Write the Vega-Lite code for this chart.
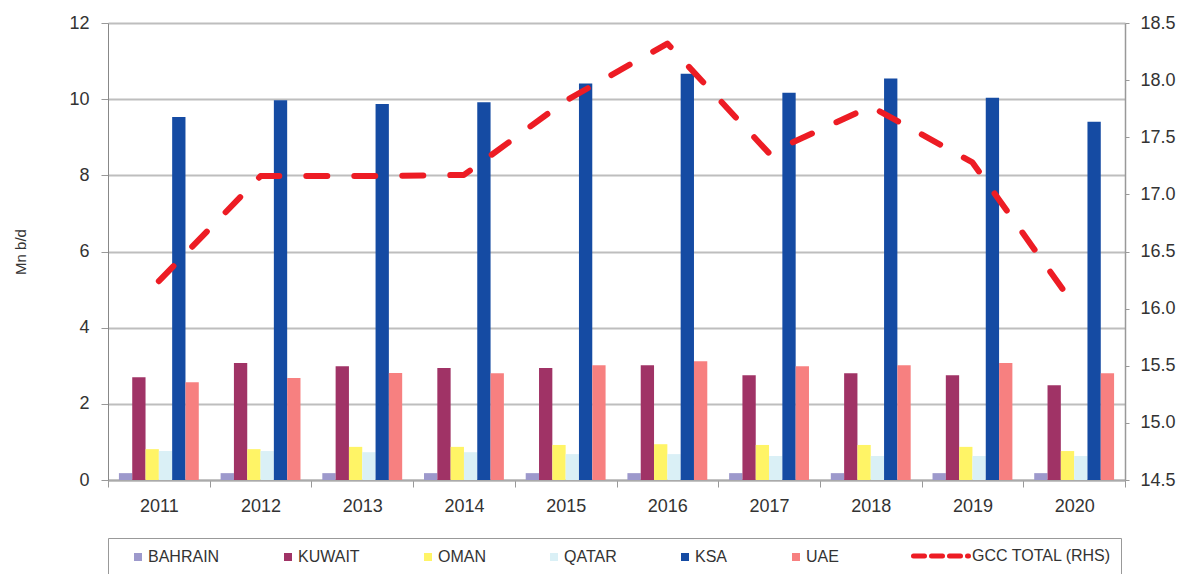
{
  "$schema": "https://vega.github.io/schema/vega-lite/v6.json",
  "width": 1017,
  "height": 457,
  "autosize": {"type": "none"},
  "padding": {"left": 108, "top": 23, "right": 54, "bottom": 94},
  "background": "white",
  "datasets": {
    "bars": [
      {"year": "2011", "country": "BAHRAIN", "value": 0.18},
      {"year": "2011", "country": "KUWAIT", "value": 2.70},
      {"year": "2011", "country": "OMAN", "value": 0.81},
      {"year": "2011", "country": "QATAR", "value": 0.76},
      {"year": "2011", "country": "KSA", "value": 9.53},
      {"year": "2011", "country": "UAE", "value": 2.57},
      {"year": "2012", "country": "BAHRAIN", "value": 0.18},
      {"year": "2012", "country": "KUWAIT", "value": 3.07},
      {"year": "2012", "country": "OMAN", "value": 0.81},
      {"year": "2012", "country": "QATAR", "value": 0.76},
      {"year": "2012", "country": "KSA", "value": 9.97},
      {"year": "2012", "country": "UAE", "value": 2.68},
      {"year": "2013", "country": "BAHRAIN", "value": 0.18},
      {"year": "2013", "country": "KUWAIT", "value": 2.99},
      {"year": "2013", "country": "OMAN", "value": 0.87},
      {"year": "2013", "country": "QATAR", "value": 0.73},
      {"year": "2013", "country": "KSA", "value": 9.87},
      {"year": "2013", "country": "UAE", "value": 2.81},
      {"year": "2014", "country": "BAHRAIN", "value": 0.18},
      {"year": "2014", "country": "KUWAIT", "value": 2.94},
      {"year": "2014", "country": "OMAN", "value": 0.87},
      {"year": "2014", "country": "QATAR", "value": 0.73},
      {"year": "2014", "country": "KSA", "value": 9.92},
      {"year": "2014", "country": "UAE", "value": 2.80},
      {"year": "2015", "country": "BAHRAIN", "value": 0.18},
      {"year": "2015", "country": "KUWAIT", "value": 2.94},
      {"year": "2015", "country": "OMAN", "value": 0.92},
      {"year": "2015", "country": "QATAR", "value": 0.68},
      {"year": "2015", "country": "KSA", "value": 10.41},
      {"year": "2015", "country": "UAE", "value": 3.01},
      {"year": "2016", "country": "BAHRAIN", "value": 0.18},
      {"year": "2016", "country": "KUWAIT", "value": 3.01},
      {"year": "2016", "country": "OMAN", "value": 0.94},
      {"year": "2016", "country": "QATAR", "value": 0.68},
      {"year": "2016", "country": "KSA", "value": 10.67},
      {"year": "2016", "country": "UAE", "value": 3.12},
      {"year": "2017", "country": "BAHRAIN", "value": 0.18},
      {"year": "2017", "country": "KUWAIT", "value": 2.75},
      {"year": "2017", "country": "OMAN", "value": 0.92},
      {"year": "2017", "country": "QATAR", "value": 0.63},
      {"year": "2017", "country": "KSA", "value": 10.17},
      {"year": "2017", "country": "UAE", "value": 2.99},
      {"year": "2018", "country": "BAHRAIN", "value": 0.18},
      {"year": "2018", "country": "KUWAIT", "value": 2.80},
      {"year": "2018", "country": "OMAN", "value": 0.92},
      {"year": "2018", "country": "QATAR", "value": 0.63},
      {"year": "2018", "country": "KSA", "value": 10.54},
      {"year": "2018", "country": "UAE", "value": 3.01},
      {"year": "2019", "country": "BAHRAIN", "value": 0.18},
      {"year": "2019", "country": "KUWAIT", "value": 2.75},
      {"year": "2019", "country": "OMAN", "value": 0.87},
      {"year": "2019", "country": "QATAR", "value": 0.63},
      {"year": "2019", "country": "KSA", "value": 10.04},
      {"year": "2019", "country": "UAE", "value": 3.07},
      {"year": "2020", "country": "BAHRAIN", "value": 0.18},
      {"year": "2020", "country": "KUWAIT", "value": 2.49},
      {"year": "2020", "country": "OMAN", "value": 0.76},
      {"year": "2020", "country": "QATAR", "value": 0.63},
      {"year": "2020", "country": "KSA", "value": 9.41},
      {"year": "2020", "country": "UAE", "value": 2.80}
    ],
    "gcc": [
      {"year": "2011", "total": 16.24},
      {"year": "2012", "total": 17.16},
      {"year": "2013", "total": 17.16},
      {"year": "2014", "total": 17.17},
      {"year": "2015", "total": 17.82},
      {"year": "2016", "total": 18.32},
      {"year": "2017", "total": 17.36},
      {"year": "2018", "total": 17.77},
      {"year": "2019", "total": 17.28},
      {"year": "2020", "total": 16.03}
    ]
  },
  "layer": [
    {
      "data": {"name": "bars"},
      "mark": {"type": "bar"},
      "encoding": {
        "x": {
          "field": "year", "type": "nominal",
          "scale": {"paddingInner": 0, "paddingOuter": 0},
          "axis": {
            "title": null, "labelAngle": 0, "tickBand": "extent",
            "tickSize": 7, "tickColor": "#999999", "tickWidth": 1,
            "domainColor": "#AAAAAA", "domainWidth": 2,
            "labelPadding": 10, "labelFontSize": 18, "labelColor": "#333333",
            "grid": false
          }
        },
        "xOffset": {
          "field": "country", "type": "nominal",
          "sort": ["BAHRAIN", "KUWAIT", "OMAN", "QATAR", "KSA", "UAE"],
          "scale": {"paddingInner": 0, "paddingOuter": 0.82}
        },
        "y": {
          "field": "value", "type": "quantitative",
          "scale": {"domain": [0, 12], "nice": false},
          "axis": {
            "title": "Mn b/d", "values": [0, 2, 4, 6, 8, 10, 12],
            "grid": true, "gridColor": "#BEBEBE", "gridWidth": 2,
            "domainColor": "#888888", "domainWidth": 1,
            "tickColor": "#999999", "tickSize": 7, "labelPadding": 12,
            "labelFontSize": 18, "labelColor": "#333333",
            "titleFontSize": 15, "titleFontWeight": "normal", "titleColor": "#333333",
            "titleX": -88, "titleBaseline": "middle"
          }
        },
        "color": {
          "field": "country", "type": "nominal",
          "scale": {
            "domain": ["BAHRAIN", "KUWAIT", "OMAN", "QATAR", "KSA", "UAE", "GCC TOTAL (RHS)"],
            "range": ["#9D99CC", "#A03366", "#FFF466", "#DAF0F6", "#154BA3", "#F78080", "#ED1C24"]
          },
          "legend": {
            "title": "\u00a0", "titleOrient": "left", "titlePadding": 16, "titleFontSize": 8,
            "orient": "none", "legendX": 0, "legendY": 515,
            "direction": "horizontal", "columns": 7, "columnPadding": 64,
            "padding": 10, "strokeColor": "#999999",
            "labelFontSize": 16, "labelColor": "#333333", "labelLimit": 0,
            "symbolType": "square", "symbolSize": 64,
            "encode": {
              "symbols": {"update": {
                "shape": {"signal": "datum.value === 'GCC TOTAL (RHS)' ? 'stroke' : 'square'"},
                "size": {"signal": "datum.value === 'GCC TOTAL (RHS)' ? 3025 : 64"},
                "stroke": {"signal": "datum.value === 'GCC TOTAL (RHS)' ? '#ED1C24' : null"},
                "strokeWidth": {"signal": "datum.value === 'GCC TOTAL (RHS)' ? 5 : 0"},
                "strokeDash": {"signal": "datum.value === 'GCC TOTAL (RHS)' ? [11, 7] : null"},
                "strokeCap": {"value": "round"},
                "x": {"signal": "datum.value === 'GCC TOTAL (RHS)' ? 12 : 4"}
              }},
              "labels": {"update": {
                "x": {"signal": "datum.value === 'GCC TOTAL (RHS)' ? 43 : 14"}
              }}
            }
          }
        }
      }
    },
    {
      "data": {"name": "gcc"},
      "mark": {"type": "line", "color": "#ED1C24", "strokeWidth": 6, "strokeDash": [21, 27], "strokeCap": "round", "strokeJoin": "round"},
      "encoding": {
        "x": {"field": "year", "type": "nominal"},
        "y": {
          "field": "total", "type": "quantitative",
          "scale": {"domain": [14.5, 18.5], "nice": false, "zero": false},
          "axis": {
            "orient": "right", "title": null,
            "values": [14.5, 15, 15.5, 16, 16.5, 17, 17.5, 18, 18.5],
            "format": ".1f", "grid": false,
            "domainColor": "#999999", "domainWidth": 1.5,
            "tickColor": "#999999", "tickSize": 4, "labelPadding": 11,
            "labelFontSize": 18, "labelColor": "#333333"
          }
        }
      }
    }
  ],
  "resolve": {"scale": {"y": "independent"}, "axis": {"y": "independent"}},
  "config": {
    "view": {"stroke": null},
    "font": "Liberation Sans"
  }
}
